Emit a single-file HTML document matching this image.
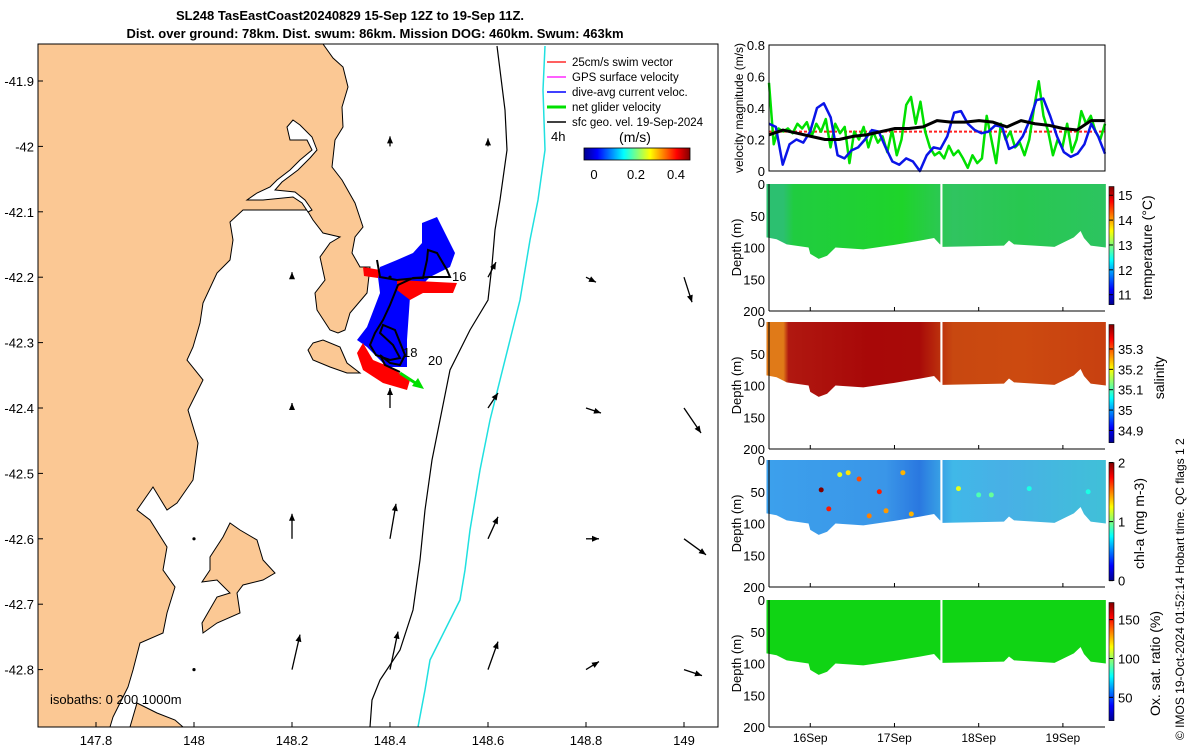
<!DOCTYPE html>
<html><head><meta charset="utf-8">
<style>
html,body{margin:0;padding:0;background:#fff;}
svg{display:block;font-family:"Liberation Sans","DejaVu Sans",sans-serif;}
</style></head>
<body>
<svg id="fig" width="1200" height="750" viewBox="0 0 1200 750" xmlns="http://www.w3.org/2000/svg">
<defs>
<linearGradient id="jetH" x1="0" x2="1" y1="0" y2="0">
<stop offset="0" stop-color="#00008f"/><stop offset="0.125" stop-color="#0000ff"/><stop offset="0.375" stop-color="#00ffff"/><stop offset="0.625" stop-color="#ffff00"/><stop offset="0.875" stop-color="#ff0000"/><stop offset="1" stop-color="#800000"/>
</linearGradient>
<linearGradient id="jetV" x1="0" x2="0" y1="1" y2="0">
<stop offset="0" stop-color="#00008f"/><stop offset="0.125" stop-color="#0000ff"/><stop offset="0.375" stop-color="#00ffff"/><stop offset="0.625" stop-color="#ffff00"/><stop offset="0.875" stop-color="#ff0000"/><stop offset="1" stop-color="#800000"/>
</linearGradient>
<linearGradient id="tempFill" x1="0" x2="1" y1="0" y2="0">
<stop offset="0" stop-color="#2cc070"/><stop offset="0.05" stop-color="#2cc070"/><stop offset="0.08" stop-color="#20cc40"/><stop offset="0.4" stop-color="#1ed42a"/><stop offset="0.55" stop-color="#30c460"/><stop offset="0.75" stop-color="#28c850"/><stop offset="1" stop-color="#2cc460"/>
</linearGradient>
<linearGradient id="salFill" x1="0" x2="1" y1="0" y2="0">
<stop offset="0" stop-color="#e07a18"/><stop offset="0.05" stop-color="#e07a18"/><stop offset="0.065" stop-color="#b01810"/><stop offset="0.3" stop-color="#a80808"/><stop offset="0.45" stop-color="#a80a08"/><stop offset="0.55" stop-color="#c84810"/><stop offset="0.75" stop-color="#cc4a10"/><stop offset="1" stop-color="#c84010"/>
</linearGradient>
<linearGradient id="chlFill" x1="0" x2="1" y1="0" y2="0">
<stop offset="0" stop-color="#3ca0ec"/><stop offset="0.35" stop-color="#3a96e8"/><stop offset="0.45" stop-color="#2a78e0"/><stop offset="0.55" stop-color="#40b8e8"/><stop offset="0.7" stop-color="#48b0e6"/><stop offset="1" stop-color="#40c0d8"/>
</linearGradient>
<clipPath id="mapclip"><rect x="38" y="44" width="680" height="683"/></clipPath>
</defs>

<text x="350" y="20" text-anchor="middle" font-size="13" font-weight="bold">SL248 TasEastCoast20240829 15-Sep 12Z to 19-Sep 11Z.</text>
<text x="375" y="38" text-anchor="middle" font-size="13" font-weight="bold">Dist. over ground: 78km. Dist. swum: 86km. Mission DOG: 460km. Swum: 463km</text>

<g id="map">
<g clip-path="url(#mapclip)">
<polygon fill="#fbc894" stroke="#000" stroke-width="1"
points="38,44 323,44 333,58 343,67 348,87 342,107 343,127 335,140 332,167 342,180 355,203 363,227 355,237 352,253 360,267 370,267 367,293 350,313 345,330 338,333 330,330 317,310 315,293 325,280 320,257 330,243 340,237 323,233 313,220 307,210 243,210 230,222 233,240 230,260 217,273 203,303 200,323 193,347 187,360 203,380 188,410 198,443 193,480 177,503 167,510 153,487 137,510 150,520 167,547 163,570 175,587 167,613 163,633 140,643 133,670 128,687 113,717 110,727 38,727"/>
<polygon fill="#fff" stroke="#000" stroke-width="1"
points="293,120 287,127 290,140 307,140 312,150 300,160 290,170 277,180 270,187 257,193 247,200 263,200 293,197 302,203 308,212 312,210 305,200 295,192 275,190 282,182 298,170 310,158 317,150 312,137 300,125"/>
<polygon fill="#fbc894" stroke="#000" stroke-width="1" points="137,703 157,713 175,720 183,727 130,727"/>
<polygon fill="#fbc894" stroke="#000" stroke-width="1"
points="230,523 223,537 210,557 210,570 202,582 217,580 230,593 217,597 202,623 203,633 217,623 240,613 237,593 243,585 263,580 275,573 263,560 257,540 240,530"/>
<polygon fill="#fbc894" stroke="#000" stroke-width="1"
points="313,343 323,340 340,347 347,363 360,373 347,373 330,367 313,360 308,350"/>
<polyline fill="none" stroke="#000" stroke-width="1.2"
points="497,46 500,70 505,110 507,150 500,200 495,230 492,265 488,300 470,330 450,370 440,420 432,460 425,510 420,560 413,610 400,650 380,680 372,700 370,727"/>
<polyline fill="none" stroke="#20e0e0" stroke-width="1.5"
points="545,46 543,90 545,150 538,200 530,240 525,270 520,300 510,340 500,380 490,420 480,470 470,530 465,570 460,600 440,640 430,660 425,690 418,727"/>
<polygon fill="#0000ff" points="422,223 437,217 450,243 455,253 450,267 430,277 410,297 407,340 407,367 387,367 367,347 357,340 367,327 380,293 378,277 380,267 397,260 413,253 422,243"/>
<polygon fill="#ff0000" points="363,343 373,360 390,367 410,380 407,390 383,383 363,370 357,353"/>
<polygon fill="#ff0000" points="397,280 457,283 453,293 423,293 410,300 397,290"/>
<polygon fill="#ff0000" points="363,267 380,270 378,278 364,276"/>
<polyline fill="none" stroke="#000" stroke-width="2"
points="377,260 380,277 397,280 417,278 423,278 427,260 428,250 437,253 447,270 450,277 430,277 413,278 398,285 390,305 383,320 375,333 370,345 376,355 390,360 400,358 393,345 380,333 383,325 395,330 405,355 400,365 390,363 380,355 385,365 400,372"/>
<line x1="400" y1="373" x2="420" y2="386" stroke="#00e000" stroke-width="3"/>
<polygon fill="#00e000" points="424,389 412,386 418,378"/>
<g id="arrows"></g>
</g>
<rect x="38" y="44" width="680" height="683" fill="none" stroke="#000" stroke-width="1"/>
<text x="452" y="281" font-size="13">16</text>
<text x="403" y="357" font-size="13">18</text>
<text x="428" y="365" font-size="13">20</text>
<text x="551" y="141" font-size="13">4h</text>
<text x="50" y="704" font-size="13">isobaths: 0  200  1000m</text>
<g id="maplabels" font-size="13"></g>
<g font-size="11.5">
<line x1="547" y1="62" x2="566" y2="62" stroke="#ff0000" stroke-width="1.2"/><text x="572" y="66">25cm/s swim vector</text>
<line x1="547" y1="77" x2="566" y2="77" stroke="#ff00ff" stroke-width="1.2"/><text x="572" y="81">GPS surface velocity</text>
<line x1="547" y1="92" x2="566" y2="92" stroke="#0000ff" stroke-width="1.5"/><text x="572" y="96">dive-avg current veloc.</text>
<line x1="547" y1="107" x2="566" y2="107" stroke="#00e000" stroke-width="3"/><text x="572" y="111">net glider velocity</text>
<line x1="547" y1="122" x2="566" y2="122" stroke="#000" stroke-width="1.5"/><text x="572" y="126">sfc geo. vel. 19-Sep-2024</text>
</g>
<text x="635" y="142" font-size="14" text-anchor="middle">(m/s)</text>
<rect x="584" y="148" width="106" height="12" fill="url(#jetH)" stroke="#000" stroke-width="0.8"/>
<text x="594" y="179" font-size="13" text-anchor="middle">0</text>
<text x="636" y="179" font-size="13" text-anchor="middle">0.2</text>
<text x="676" y="179" font-size="13" text-anchor="middle">0.4</text>
</g>

<g id="vel"></g>
<g id="depthpanels"></g>
<text transform="translate(1184,740) rotate(-90)" font-size="12">© IMOS 19-Oct-2024 01:52:14 Hobart time. QC flags 1  2</text>
</svg>

<script>
// ===== Map data =====
var latTicks = [-41.9,-42,-42.1,-42.2,-42.3,-42.4,-42.5,-42.6,-42.7,-42.8];
var lonTicks = [147.8,148,148.2,148.4,148.6,148.8,149];
var arrowLon = [148.0,148.2,148.4,148.6,148.8,149.0, 148.2,148.4,148.6,148.8,149.0, 148.2,148.4,148.6,148.8,149.0, 148.2,148.4,148.6,148.8,149.0, 148.4,148.6, 148.0];
var arrowLat = [-42.8,-42.8,-42.8,-42.8,-42.8,-42.8, -42.6,-42.6,-42.6,-42.6,-42.6, -42.4,-42.4,-42.4,-42.4,-42.4, -42.2,-42.2,-42.2,-42.2,-42.2, -42.0,-42.0, -42.6];
var arrowU  = [0.0,0.08,0.08,0.1,0.13,0.18, 0.0,0.06,0.1,0.13,0.22, 0.0,0.0,0.1,0.15,0.17, 0.0,0.0,0.08,0.1,0.08, 0.0,0.0, 0.0];
var arrowV  = [0.0,0.35,0.38,0.28,0.08,-0.06, 0.25,0.35,0.22,0.0,-0.16, 0.05,0.2,0.15,-0.05,-0.25, 0.05,0.0,0.15,-0.05,-0.25, 0.1,0.08, 0.0];

// ===== Velocity panel data =====
var greenVel=[0.56,0.17,0.27,0.25,0.27,0.24,0.30,0.27,0.31,0.22,0.30,0.25,0.33,0.15,0.30,0.24,0.28,0.05,0.25,0.20,0.28,0.15,0.25,0.18,0.22,0.12,0.26,0.10,0.20,0.42,0.47,0.30,0.44,0.25,0.15,0.10,0.12,0.08,0.16,0.10,0.13,0.08,0.02,0.10,0.05,0.08,0.35,0.20,0.05,0.30,0.20,0.25,0.15,0.18,0.10,0.20,0.40,0.57,0.35,0.25,0.10,0.20,0.15,0.30,0.12,0.20,0.38,0.30,0.35,0.25,0.20,0.30];
var blueVel=[0.30,0.28,0.04,0.17,0.20,0.18,0.25,0.40,0.43,0.34,0.10,0.08,0.13,0.15,0.20,0.26,0.25,0.15,0.06,0.04,0.08,0.06,0.00,0.10,0.15,0.14,0.22,0.37,0.38,0.30,0.26,0.24,0.25,0.29,0.28,0.14,0.16,0.22,0.32,0.45,0.46,0.35,0.22,0.12,0.09,0.11,0.17,0.30,0.22,0.11];
var blackVel=[0.23,0.26,0.24,0.22,0.20,0.20,0.22,0.23,0.25,0.27,0.27,0.28,0.32,0.31,0.31,0.32,0.31,0.28,0.32,0.30,0.29,0.27,0.26,0.32,0.32];
var redVel=[0.25,0.25];
var velTicks=[0,0.2,0.4,0.6,0.8];

// ===== Depth sections data =====
var bottomT=[15.48,15.60,15.72,15.98,16.00,16.10,16.20,16.30,16.63,16.99,17.31,17.47,17.54,17.545,17.57,18.30,18.36,18.42,18.90,19.13,19.21,19.25,19.33,19.51];
var bottomD=[84,87,95,100,110,118,113,100,103,96,89,85,95,95,99,97,89,95,99,84,74,85,97,100];
var gapT=[17.545,17.57];
var depthTicks=[0,50,100,150,200];
var dayTicks=[16,17,18,19];
var dayLabels=['16Sep','17Sep','18Sep','19Sep'];
var cbTitle=['temperature (°C)','salinity','chl-a (mg m-3)','Ox. sat. ratio (%)'];
var cbTickVals=[[15,14,13,12,11],[35.3,35.2,35.1,35,34.9],[2,1,0],[150,100,50]];
var cbMin=[10.6,34.84,0,20], cbMax=[15.35,35.42,2,172];
var chlDotT=[16.13,16.35,16.22,16.45,16.58,16.82,17.1,16.9,17.2,16.7,17.76,18.0,18.15,18.6,19.3];
var chlDotD=[47,23,77,20,30,50,20,80,85,88,45,55,55,45,50];
var chlDotV=[2.0,1.2,1.7,1.3,1.6,1.7,1.4,1.45,1.4,1.5,1.2,0.9,0.95,0.8,0.8];

var panelTop=[184,322,460,600];
var panelFill=['url(#tempFill)','url(#salFill)','url(#chlFill)','#10d414'];
var panelNames=['temperature-section','salinity-section','chlorophyll-section','oxygen-section'];
var cbTitleX=[1152,1164,1144,1160];

function mapX(lon){ return 194 + (lon-148)*490; }
function mapY(lat){ return 81 + (-41.9-lat)/0.1*65.4; }
var NS="http://www.w3.org/2000/svg";
function mk(tag,attrs,parent){var e=document.createElementNS(NS,tag);for(var k in attrs)e.setAttribute(k,attrs[k]);parent.appendChild(e);return e;}

var ml=document.getElementById('maplabels');
latTicks.forEach(function(v){
  var t=mk('text',{x:34,y:mapY(v)+5,'text-anchor':'end'},ml);
  
  
  t.textContent=(Math.round(v*10)/10).toString();
  mk('line',{x1:38,x2:43,y1:mapY(v),y2:mapY(v),stroke:'#000'},ml);
});
lonTicks.forEach(function(v){
  var t=mk('text',{x:mapX(v),y:745,'text-anchor':'middle'},ml);
  
  
  t.textContent=v.toString();
  mk('line',{x1:mapX(v),x2:mapX(v),y1:727,y2:722,stroke:'#000'},ml);
});
var ag=document.getElementById('arrows');
for(var i=0;i<arrowLon.length;i++){
  var x0=mapX(arrowLon[i]), y0=mapY(arrowLat[i]);
  var x1=x0+arrowU[i]*100, y1=y0-arrowV[i]*100;
  var g=mk('g',{},ag);
  
  
  mk('line',{x1:x0,y1:y0,x2:x1,y2:y1,stroke:'#000','stroke-width':1.3},g);
  var dx=x1-x0, dy=y1-y0, L=Math.sqrt(dx*dx+dy*dy);
  if(L<1){ mk('circle',{cx:x0,cy:y0,r:1.6,fill:'#000'},g); continue; }
  var ux=dx/L, uy=dy/L, h=7, w=3;
  mk('polygon',{points:x1+','+y1+' '+(x1-ux*h-uy*w)+','+(y1-uy*h+ux*w)+' '+(x1-ux*h+uy*w)+','+(y1-uy*h-ux*w),fill:'#000'},g);
}

var tStart=15.51, tEnd=19.5;
function tX(t){ return 769 + (t-tStart)/(tEnd-tStart)*(1105-769); }
function vY(v){ return 171 - v/0.8*126; }

var vel=document.getElementById('vel');
velTicks.forEach(function(v){
  var t=mk('text',{x:765,y:vY(v)+5,'text-anchor':'end','font-size':13},vel);
  
  
  t.textContent=v.toString();
});
var yt=mk('text',{transform:'translate(743,108) rotate(-90)','text-anchor':'middle','font-size':12},vel);


yt.textContent='velocity magnitude (m/s)';
function series(arr,color,w,dash,name){
  var pts=arr.map(function(v,i){return tX(tStart+i/(arr.length-1)*(tEnd-tStart))+','+vY(v);}).join(' ');
  var p=mk('polyline',{points:pts,fill:'none',stroke:color,'stroke-width':w,'stroke-linejoin':'round'},vel);
  if(dash)p.setAttribute('stroke-dasharray',dash);
  
  
}
series(redVel,'#ff2020',2,'3,2','swim-speed-line');
series(greenVel,'#00e000',2.5,null,'net-glider-speed-line');
series(blueVel,'#0a14e8',2.5,null,'dive-avg-current-line');
series(blackVel,'#000',3,null,'sfc-geo-speed-line');
mk('rect',{x:769,y:45,width:336,height:126,fill:'none',stroke:'#000'},vel);

var dp=document.getElementById('depthpanels');
function dY(p,d){ return panelTop[p] + d/200*127; }
function jet(f){
  var stops=[[0,0,0,143],[0.125,0,0,255],[0.375,0,255,255],[0.625,255,255,0],[0.875,255,0,0],[1,128,0,0]];
  f=Math.max(0,Math.min(1,f));
  for(var i=1;i<stops.length;i++){ if(f<=stops[i][0]){var a=stops[i-1],b=stops[i],u=(f-a[0])/(b[0]-a[0]);
    return 'rgb('+Math.round(a[1]+u*(b[1]-a[1]))+','+Math.round(a[2]+u*(b[2]-a[2]))+','+Math.round(a[3]+u*(b[3]-a[3]))+')';}}
  return 'rgb(128,0,0)';
}
for(var p=0;p<4;p++){
  var g=mk('g',{},dp);
  
  
  var pts=[tX(bottomT[0])+','+dY(p,0)];
  pts.push(tX(bottomT[bottomT.length-1])+','+dY(p,0));
  for(var i=bottomT.length-1;i>=0;i--) pts.push(tX(bottomT[i])+','+dY(p,bottomD[i]));
  mk('polygon',{points:pts.join(' '),fill:panelFill[p]},g);
  mk('rect',{x:tX(gapT[0]),y:dY(p,0)-1,width:tX(gapT[1])-tX(gapT[0]),height:dY(p,101)-dY(p,0)+1,fill:'#fff'},g);
  if(p==2){
    for(var k=0;k<chlDotT.length;k++){
      var c=mk('circle',{cx:tX(chlDotT[k]),cy:dY(p,chlDotD[k]),r:2.5,fill:jet(chlDotV[k]/2)},g);
      
      
    }
  }
  mk('line',{x1:769,y1:dY(p,200),x2:1105,y2:dY(p,200),stroke:'#000'},g);
  mk('line',{x1:769,y1:dY(p,0),x2:769,y2:dY(p,200),stroke:'#000'},g);
  depthTicks.forEach(function(d){
    var t=mk('text',{x:765,y:dY(p,d)+5,'text-anchor':'end','font-size':13},g);
    
    
    t.textContent=d.toString();
  });
  var at=mk('text',{transform:'translate(741,'+dY(p,100)+') rotate(-90)','text-anchor':'middle','font-size':13},g);
  
  
  at.textContent='Depth (m)';
  dayTicks.forEach(function(dd){ mk('line',{x1:tX(dd),x2:tX(dd),y1:dY(p,200),y2:dY(p,200)-4,stroke:'#000'},g); });
  var cy0=dY(p,4), cy1=dY(p,190);
  var cb=mk('rect',{x:1109,y:cy0,width:5,height:cy1-cy0,fill:'url(#jetV)',stroke:'#000','stroke-width':0.6},g);
  
  
  cbTickVals[p].forEach(function(v){
    var yy=cy1-(v-cbMin[p])/(cbMax[p]-cbMin[p])*(cy1-cy0);
    mk('line',{x1:1109,x2:1113,y1:yy,y2:yy,stroke:'#000'},g);
    var t=mk('text',{x:1118,y:yy+5,'font-size':13},g);
    
    
    t.textContent=v.toString();
  });
  var ct=mk('text',{transform:'translate('+cbTitleX[p]+','+(p==1?dY(p,88):dY(p,100))+') rotate(-90)','text-anchor':'middle','font-size':14},g);
  
  
  ct.textContent=cbTitle[p];
}
dayTicks.forEach(function(dd,i){
  var t=mk('text',{x:tX(dd),y:742,'text-anchor':'middle','font-size':12},dp);
  
  
  t.textContent=dayLabels[i];
});
</script>
</body></html>
